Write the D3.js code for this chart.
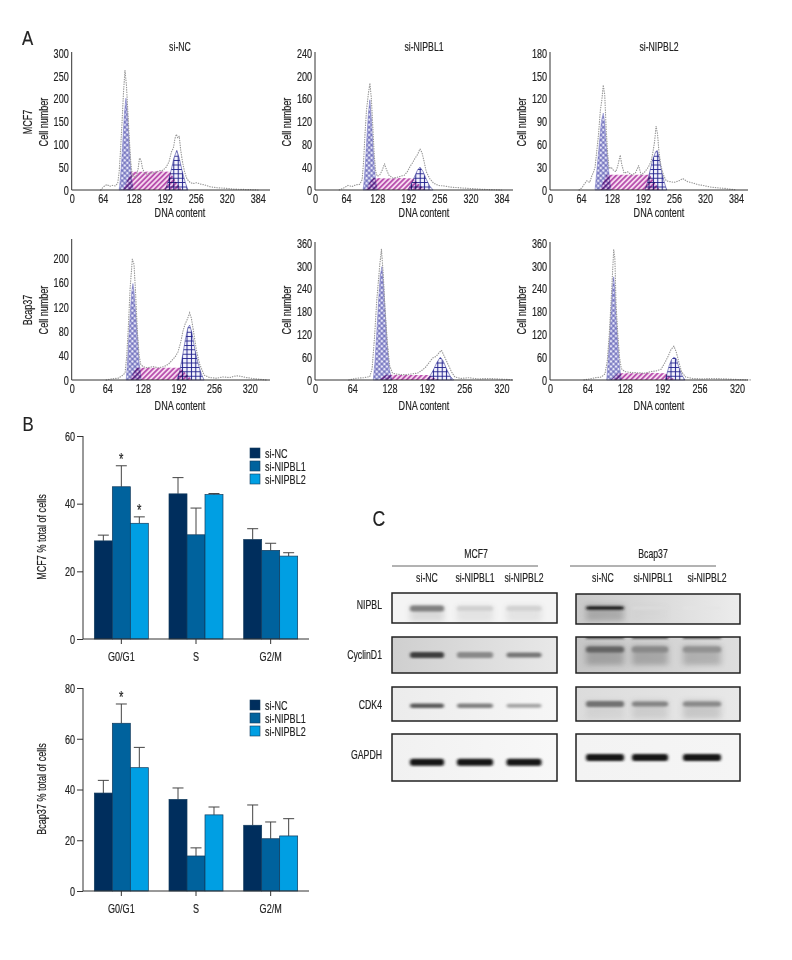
<!DOCTYPE html>
<html><head><meta charset="utf-8">
<script src="https://cdn.jsdelivr.net/npm/d3@7/dist/d3.min.js"></script>
<style>
html,body{margin:0;padding:0;background:#fff}
svg{display:block}
text{font-family:"Liberation Sans",sans-serif;fill:#222;stroke:#222;stroke-width:.18}
</style></head><body>
<svg id="c" width="792" height="960"></svg>
<script>
// ---------- Panel A data: (DNA channel, cell count) ----------
const colNames = ["si-NC","si-NIPBL1","si-NIPBL2"];
const rowNames = ["MCF7","Bcap37"];
const xTicksLong = [0,64,128,192,256,320,384];
const xTicksShort = [0,64,128,192,256,320];
const yTicks11 = [0,50,100,150,200,250,300];
const yTicks12 = [0,40,80,120,160,200,240];
const yTicks13 = [0,30,60,90,120,150,180];
const yTicks21 = [0,40,80,120,160,200];
const yTicks22 = [0,60,120,180,240,300,360];
const yTicks23 = [0,60,120,180,240,300,360];

const outline11 = [[60,0],[64,5],[68,9],[73,12],[78,8],[84,10],[90,9],[95,15],[98,40],[101,90],[104,150],[107,215],[110,262],[113,230],[116,170],[119,110],[122,60],[125,32],[129,28],[133,30],[137,46],[140,70],[143,66],[146,48],[150,38],[156,34],[164,37],[172,38],[180,42],[188,43],[195,50],[201,62],[206,84],[210,92],[213,112],[216,122],[219,114],[222,118],[225,88],[229,60],[233,40],[238,24],[244,17],[250,14],[258,16],[266,13],[275,11],[286,7],[300,5],[316,4],[335,2],[360,1],[385,0]];
const g111 = [[98,0],[100,20],[103,60],[106,115],[109,170],[112,201],[115,170],[118,115],[121,60],[124,22],[127,0]];
const s11 = [[106,0],[116,24],[122,40],[150,40],[175,41],[203,40],[214,20],[227,0]];
const g211 = [[193,0],[199,18],[205,42],[211,70],[217,87],[222,70],[228,42],[234,18],[240,0]];

const outline12 = [[50,0],[60,4],[68,8],[76,6],[84,9],[92,10],[97,18],[100,50],[103,100],[106,140],[110,170],[113,187],[116,160],[119,110],[122,60],[125,32],[128,24],[133,26],[138,34],[143,46],[147,36],[152,26],[160,21],[168,22],[176,24],[184,26],[190,32],[196,42],[201,48],[206,56],[211,62],[216,72],[220,66],[224,52],[229,32],[236,20],[244,12],[254,8],[266,7],[280,5],[296,4],[312,3],[330,2],[350,1],[384,0]];
const g112 = [[99,0],[101,15],[104,50],[107,95],[110,135],[113,158],[116,125],[119,80],[122,42],[125,15],[128,0]];
const s12 = [[104,0],[113,14],[120,21],[150,20],[180,21],[202,20],[213,11],[227,0]];
const g212 = [[191,0],[197,9],[204,22],[211,35],[216,40],[222,33],[229,19],[236,7],[243,0]];

const outline13 = [[60,0],[66,3],[71,8],[76,12],[82,10],[86,18],[90,24],[93,30],[96,48],[100,72],[104,105],[107,118],[110,138],[113,125],[116,80],[119,48],[122,28],[126,30],[131,26],[136,24],[140,32],[145,46],[148,34],[153,22],[160,24],[168,20],[176,22],[183,32],[188,20],[196,24],[203,30],[209,38],[213,52],[216,64],[219,84],[222,74],[225,50],[229,32],[234,20],[240,12],[248,11],[256,10],[266,12],[274,15],[284,11],[296,9],[306,7],[316,6],[330,4],[345,3],[362,2],[385,0]];
const g113 = [[93,0],[95,14],[98,34],[102,62],[106,90],[110,101],[113,88],[116,62],[120,32],[123,14],[126,0]];
const s13 = [[103,0],[111,12],[117,20],[145,20],[175,20],[206,20],[216,10],[227,0]];
const g213 = [[196,0],[201,10],[206,24],[212,40],[218,50],[221,52],[225,44],[230,26],[236,10],[241,0]];

const outline21 = [[62,0],[72,2],[84,3],[92,8],[96,12],[99,40],[102,90],[105,150],[109,198],[112,190],[115,140],[118,80],[121,42],[124,26],[128,22],[136,20],[146,22],[156,20],[166,22],[174,26],[180,32],[186,38],[191,46],[196,62],[200,80],[204,92],[208,100],[212,110],[215,102],[219,80],[224,50],[230,26],[238,8],[248,4],[260,3],[272,5],[284,4],[296,7],[304,6],[314,4],[330,2],[350,0]];
const g121 = [[98,0],[100,25],[103,75],[106,120],[108,145],[110,158],[112,145],[115,110],[118,75],[121,30],[125,0]];
const s21 = [[103,0],[111,12],[117,20],[140,20],[165,20],[195,20],[206,10],[217,0]];
const g221 = [[189,0],[194,14],[199,38],[204,65],[209,86],[212,90],[216,78],[221,52],[227,28],[233,10],[238,0]];

const outline22 = [[58,0],[72,5],[84,6],[94,9],[98,30],[102,110],[106,210],[111,300],[114,344],[117,280],[120,190],[124,100],[128,38],[133,18],[142,15],[154,14],[166,16],[176,18],[184,26],[190,34],[196,46],[202,58],[208,62],[213,72],[217,78],[222,62],[228,42],[234,22],[240,8],[250,4],[264,6],[280,3],[300,4],[325,2],[340,0]];
const g122 = [[100,0],[103,50],[106,125],[109,205],[112,275],[115,298],[118,240],[121,165],[124,90],[128,25],[132,0]];
const s22 = [[110,0],[116,8],[122,14],[150,13],[175,13],[194,13],[204,6],[214,0]];
const g222 = [[192,0],[197,10],[203,26],[209,46],[215,60],[220,50],[226,28],[232,10],[238,0]];

const outline23 = [[58,0],[68,3],[78,6],[88,8],[94,16],[98,50],[101,110],[104,190],[106,250],[109,342],[111,320],[113,200],[116,120],[119,60],[122,30],[128,22],[138,20],[150,19],[162,18],[172,22],[182,24],[190,28],[196,44],[202,62],[207,80],[212,89],[216,74],[220,50],[225,22],[232,8],[244,4],[260,3],[278,4],[300,3],[325,1],[345,0]];
const g123 = [[97,0],[99,40],[102,110],[105,195],[108,262],[109,271],[111,235],[113,170],[116,95],[119,38],[122,0]];
const s23 = [[104,0],[110,9],[116,18],[145,18],[170,19],[197,18],[206,8],[215,0]];
const g223 = [[197,0],[200,16],[204,38],[208,54],[212,60],[216,56],[220,36],[226,12],[231,0]];

// ---------- Panel B data ----------
const phases = ["G0/G1","S","G2/M"];
const groups = ["si-NC","si-NIPBL1","si-NIPBL2"];
const mcfMean = [[29,45,34.2],[42.9,30.8,42.7],[29.4,26.2,24.5]];
const mcfErr  = [[1.7,6.2,1.9],[4.8,7.9,0.3],[3.2,2.1,1.0]];
const bcapMean = [[38.6,66.1,48.6],[36.1,13.8,30],[25.9,20.6,21.7]];
const bcapErr  = [[5,7.6,8],[4.5,3.2,3.1],[8,6.6,6.8]];
const mcfTicks = [0,20,40,60];
const bcapTicks = [0,20,40,60,80];
const mcfStars = [[0,1],[0,2]];
const bcapStars = [[0,1]];

// ---------- Panel C data: band intensity by lane ----------
const proteins = ["NIPBL","CyclinD1","CDK4","GAPDH"];
const blotMcf  = [[0.5,0.15,0.14],[0.78,0.46,0.54],[0.66,0.5,0.34],[0.96,0.96,0.96]];
const blotBcap = [[0.92,0.1,0.07],[0.62,0.46,0.42],[0.56,0.48,0.46],[0.96,0.94,0.94]];
const smearMcf  = [[0.16,0.1,0.1],[0,0,0],[0,0,0],[0,0,0]];
const smearBcap = [[0.3,0.02,0],[0.34,0.34,0.3],[0.08,0.14,0.2],[0,0,0]];
const blotMcfBg  = [["#f4f4f4","#f4f4f4"],["#cfcfcf","#e8e8e8"],["#ececec","#f6f6f6"],["#f1f1f1","#f8f8f8"]];
const blotBcapBg = [["#c9c9c9","#ececec"],["#c6c6c6","#dedede"],["#dcdcdc","#e8e8e8"],["#f3f3f3","#f5f5f5"]];

// ---------- Layout ----------
const svg = d3.select("#c");
const defs = svg.append("defs");
function pat(id,size,rot,draw,bg){
  const p=defs.append("pattern").attr("id",id).attr("width",size).attr("height",size).attr("patternUnits","userSpaceOnUse");
  if(rot) p.attr("patternTransform","rotate("+rot+")");
  p.append("rect").attr("width",size).attr("height",size).attr("fill",bg);
  draw(p,size);
}
pat("pG1",3.6,45,(p,s)=>{
  p.append("path").attr("d",`M0 ${s/2}H${s}M${s/2} 0V${s}`).attr("stroke","#5252ae").attr("stroke-width",.9);
},"#e6e6f8");
pat("pS",3.6,-45,(p,s)=>{
  p.append("path").attr("d",`M0 ${s/2}H${s}`).attr("stroke","#b03fa6").attr("stroke-width",1.6);
},"#f6d8ef");
pat("pG2",4.4,0,(p,s)=>{
  p.append("path").attr("d",`M0 ${s/2}H${s}M${s/2} 0V${s}`).attr("stroke","#20208c").attr("stroke-width",1);
},"#f4f4fd");
const blurF=defs.append("filter").attr("id","b1").attr("x","-30%").attr("y","-150%").attr("width","160%").attr("height","400%");
blurF.append("feGaussianBlur").attr("stdDeviation","1.8 1.0");
const blurG=defs.append("filter").attr("id","b2").attr("x","-30%").attr("y","-100%").attr("width","160%").attr("height","300%");
blurG.append("feGaussianBlur").attr("stdDeviation","3 2.5");

function txt(x,y,s,size,anchor,rot){
  const t=svg.append("text").attr("x",x).attr("y",y).attr("font-size",size).attr("text-anchor",anchor||"middle").text(s);
  if(rot) t.attr("transform",`rotate(${rot} ${x} ${y})`);
  return t;
}

txt(22,45,"A",21,"start");
txt(22.5,431,"B",21,"start");
txt(372.5,526,"C",22,"start");

const panels = [
 {x0:71.7,x1:270,px64:31,dom:384,y0:190,yt:53,ymax:300,xt:xTicksLong,yt_:yTicks11,o:outline11,g1:g111,s:s11,g2:g211,title:colNames[0],tx:180,lab:180,row:rowNames[0]},
 {x0:315,x1:513,px64:31.1,dom:384,y0:190,yt:53,ymax:240,xt:xTicksLong,yt_:yTicks12,o:outline12,g1:g112,s:s12,g2:g212,title:colNames[1],tx:424,lab:424},
 {x0:550,x1:748,px64:31,dom:384,y0:190,yt:53,ymax:180,xt:xTicksLong,yt_:yTicks13,o:outline13,g1:g113,s:s13,g2:g213,title:colNames[2],tx:659,lab:659},
 {x0:71.7,x1:270,px64:35.6,dom:320,y0:380,yt:258,ymax:200,top:240,xt:xTicksShort,yt_:yTicks21,o:outline21,g1:g121,s:s21,g2:g221,lab:180,row:rowNames[1]},
 {x0:315,x1:513,px64:37.3,dom:320,y0:380,yt:243,ymax:360,xt:xTicksShort,yt_:yTicks22,o:outline22,g1:g122,s:s22,g2:g222,lab:424},
 {x0:550,x1:748,px64:37.4,dom:320,y0:380,yt:243,ymax:360,xt:xTicksShort,yt_:yTicks23,o:outline23,g1:g123,s:s23,g2:g223,lab:659}
];
panels.forEach(p=>{
  const x=d3.scaleLinear().domain([0,p.dom]).range([p.x0,p.x0+p.px64*p.dom/64]);
  const y=d3.scaleLinear().domain([0,p.ymax]).range([p.y0,p.yt]);
  const g=svg.append("g");
  const area=d3.area().x(d=>x(d[0])).y0(y(0)).y1(d=>y(d[1]));
  const line=d3.line().x(d=>x(d[0])).y(d=>y(d[1]));
  [[p.s,"pS","none"],[p.g1,"pG1","#6a6abd"],[p.g2,"pG2","#2a2a92"]].forEach(([d,id,st])=>{
    g.append("path").attr("d",area(d)).attr("fill",`url(#${id})`).attr("stroke",st).attr("stroke-width",.5).style("mix-blend-mode","multiply");
  });
  g.append("path").attr("d",line(p.o)).attr("fill","none").attr("stroke","#999").attr("stroke-width",1.2).attr("stroke-linecap","round").attr("stroke-dasharray","0.4 2");
  const ax=g.append("g").attr("transform",`translate(0,${p.y0})`).call(d3.axisBottom(x).tickValues(p.xt).tickSize(0).tickPadding(3).tickFormat(d3.format("d")));
  ax.select(".domain").remove();
  const ay=g.append("g").attr("transform",`translate(${p.x0},0)`).call(d3.axisLeft(y).tickValues(p.yt_).tickSize(0).tickPadding(3).tickFormat(d3.format("d")));
  ay.select(".domain").remove();
  g.selectAll(".tick text").attr("font-size",13.5).attr("fill","#222");
  const axisTop = p.top!==undefined ? p.top : p.yt;
  g.append("path").attr("d",`M${p.x0},${axisTop-1}V${p.y0}H${p.x1}`).attr("fill","none").attr("stroke","#333").attr("stroke-width",1);
  const cy=(p.y0===190)?122:310;
  txt(p.lab,p.y0+(p.y0===190?27:30),"DNA content",13.5);
  const lx=p.x0-28;
  txt(lx+4,cy,"Cell number",13.5,"middle",-90);
  if(p.row) txt(lx-12,cy,p.row,13.5,"middle",-90);
  if(p.title) txt(p.tx,51,p.title,13);
});

// ---------- Panel B ----------
function bars(cfg){
  const x=d3.scaleBand().domain(phases).range([84,308]).paddingInner(.277).paddingOuter(.1385);
  const x1=d3.scaleBand().domain(groups).range([0,x.bandwidth()]);
  const y=d3.scaleLinear().domain([0,cfg.max]).range([cfg.y0,cfg.yt]);
  const col=d3.scaleOrdinal().domain(groups).range(["#002e5d","#00629d","#009fe3"]);
  const g=svg.append("g");
  phases.forEach((ph,i)=>{
    groups.forEach((gr,j)=>{
      const v=cfg.mean[i][j], e=cfg.err[i][j], cx=x(ph)+x1(gr)+x1.bandwidth()/2;
      g.append("path").attr("d",`M${cx},${y(v)}V${y(v+e)}M${cx-5.5},${y(v+e)}H${cx+5.5}`).attr("stroke","#444").attr("stroke-width",1).attr("fill","none");
      g.append("rect").attr("x",x(ph)+x1(gr)).attr("width",x1.bandwidth()).attr("y",y(v)).attr("height",y(0)-y(v)).attr("fill",col(gr)).attr("stroke","#123a5c").attr("stroke-width",.7);
    });
  });
  const ax=g.append("g").attr("transform",`translate(0,${cfg.y0})`).call(d3.axisBottom(x).tickSize(5).tickPadding(7));
  const ay=g.append("g").attr("transform","translate(83,0)").call(d3.axisLeft(y).tickValues(cfg.ticks).tickSize(6).tickPadding(2).tickFormat(d3.format("d")));
  [ax,ay].forEach(a=>{
    a.selectAll("path,line").attr("stroke","#333").attr("stroke-width",1);
    a.selectAll("text").attr("font-size",13.5).attr("fill","#222");
  });
  ay.select(".domain").attr("d",`M0,${cfg.y0}V${cfg.yt}`);
  ax.select(".domain").attr("d",`M83,0H309`);
  txt(46,cfg.ym,cfg.label,13.5,"middle",-90);
  cfg.stars.forEach(([i,j])=>{
    const cx=x(phases[i])+x1(groups[j])+x1.bandwidth()/2;
    txt(cx,y(cfg.mean[i][j]+cfg.err[i][j])-1,"*",17);
  });
  groups.forEach((gr,k)=>{
    g.append("rect").attr("x",250).attr("y",cfg.ly+k*13).attr("width",10).attr("height",10).attr("fill",col(gr)).attr("stroke","#123a5c").attr("stroke-width",.6);
    txt(265,cfg.ly+k*13+9.5,gr,13.5,"start");
  });
}
bars({mean:mcfMean,err:mcfErr,ticks:mcfTicks,max:60,y0:639,yt:436,label:"MCF7 % total of cells",ym:537,stars:mcfStars,ly:448});
bars({mean:bcapMean,err:bcapErr,ticks:bcapTicks,max:80,y0:891,yt:688,label:"Bcap37 % total of cells",ym:789,stars:bcapStars,ly:700});

// ---------- Panel C ----------
const rowsY=d3.scaleOrdinal().domain(proteins).range([[593,30],[637,36],[687,34],[734,47]]);
const labY=d3.scaleOrdinal().domain(proteins).range([609,659,709,759]);
const blots=[
 {name:"MCF7",x0:392,x1:557,lab:[427,475,524],lane:[427,475,524],w:[34,36,35],by:[.52,.5,.55,.6],data:blotMcf,sm:smearMcf,bg:blotMcfBg,cx:476,l0:392,l1:538},
 {name:"Bcap37",x0:576,x1:740,lab:[603,653,707],lane:[605,650,702],w:[38,36,38],by:[.47,.35,.5,.5],data:blotBcap,sm:smearBcap,bg:blotBcapBg,cx:653,l0:570,l1:716}
];
const bandH=[[6,5,5],[6,6,5],[4.5,4.5,4],[7,7,7]];
const bandHR=[[3.5,2,2],[6,6,6],[6,5,5],[7,7,7]];
const shade=d3.scaleLinear().domain([0,1]).range(["#f4f4f4","#0b0b0b"]);
blots.forEach((b,bi)=>{
  txt(b.cx,558,b.name,13);
  svg.append("line").attr("x1",b.l0).attr("x2",b.l1).attr("y1",566).attr("y2",566).attr("stroke","#555").attr("stroke-width",.9);
  groups.forEach((gr,i)=>txt(b.lab[i],582,gr,13));
  proteins.forEach((pr,r)=>{
    const [ry,rh]=rowsY(pr);
    const ryy = (bi===1&&r===0)?ry+1:ry;
    const clipId=`cl${bi}${r}`, gid=`gr${bi}${r}`;
    const lg=defs.append("linearGradient").attr("id",gid);
    lg.append("stop").attr("offset","0").attr("stop-color",b.bg[r][0]);
    lg.append("stop").attr("offset","1").attr("stop-color",b.bg[r][1]);
    defs.append("clipPath").attr("id",clipId).append("rect").attr("x",b.x0).attr("y",ryy).attr("width",b.x1-b.x0).attr("height",rh);
    const g=svg.append("g").attr("clip-path",`url(#${clipId})`);
    g.append("rect").attr("x",b.x0).attr("y",ryy).attr("width",b.x1-b.x0).attr("height",rh).attr("fill",`url(#${gid})`);
    if(bi===1&&r===1){
      b.lane.forEach((lx,i)=>g.append("rect").attr("x",lx-b.w[i]/2).attr("y",ryy-1).attr("width",b.w[i]).attr("height",3).attr("fill","#333").attr("opacity",.7).attr("filter","url(#b1)"));
    }
    b.data[r].forEach((v,i)=>{
      const cy=ryy+rh*b.by[r];
      const sm=b.sm[r][i];
      if(sm>0){
        g.append("rect").attr("x",b.lane[i]-b.w[i]/2).attr("y",cy-rh*.12).attr("width",b.w[i]).attr("height",rh*.55)
         .attr("fill","#555").attr("opacity",sm).attr("filter","url(#b2)");
      }
      const h=(bi===0?bandH:bandHR)[r][i];
      g.append("rect").attr("x",b.lane[i]-b.w[i]/2).attr("y",cy-h/2).attr("width",b.w[i]).attr("height",h).attr("rx",2.5)
       .attr("fill",shade(v)).attr("filter","url(#b1)");
    });
    svg.append("rect").attr("x",b.x0).attr("y",ryy).attr("width",b.x1-b.x0).attr("height",rh).attr("fill","none").attr("stroke","#222").attr("stroke-width",1.5);
    if(bi===0) txt(382,labY(pr),pr,13,"end");
  });
});

// condense all labels to the reference's condensed face
svg.selectAll("text").each(function(){
  const l=this.getComputedTextLength();
  const f=+this.getAttribute("font-size");
  this.setAttribute("textLength",l*(f<20?0.67:0.8));
  this.setAttribute("lengthAdjust","spacingAndGlyphs");
});
</script>
</body></html>
